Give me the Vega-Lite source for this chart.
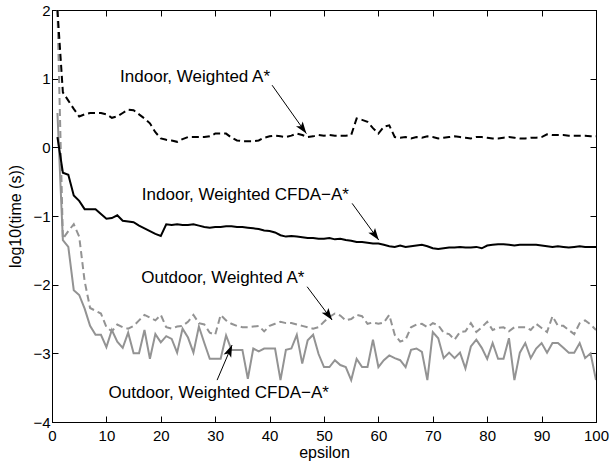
{
"$schema": "https://vega.github.io/schema/vega-lite/v6.json",
"width": 544, "height": 412,
"autosize": {"type": "none"},
"padding": {"left": 52, "top": 10, "right": 14, "bottom": 42},
"background": "white",
"config": {"view": {"stroke": "black", "strokeWidth": 1}, "font": "Liberation Sans"},
"datasets": {
"curves": [
{"eps":1,"ia":2.0,"ic":0.15,"oa":2.0,"oc":0.5},
{"eps":2,"ia":0.80,"ic":-0.37,"oa":-1.33,"oc":-1.35},
{"eps":3,"ia":0.68,"ic":-0.40,"oa":-1.22,"oc":-1.45},
{"eps":4,"ia":0.56,"ic":-0.70,"oa":-1.12,"oc":-2.08},
{"eps":5,"ia":0.45,"ic":-0.78,"oa":-1.30,"oc":-2.15},
{"eps":6,"ia":0.48,"ic":-0.90,"oa":-1.95,"oc":-2.35},
{"eps":7,"ia":0.50,"ic":-0.90,"oa":-2.34,"oc":-2.60},
{"eps":8,"ia":0.50,"ic":-0.90,"oa":-2.38,"oc":-2.73},
{"eps":9,"ia":0.50,"ic":-0.97,"oa":-2.42,"oc":-2.73},
{"eps":10,"ia":0.48,"ic":-1.04,"oa":-2.62,"oc":-2.91},
{"eps":11,"ia":0.43,"ic":-1.03,"oa":-2.68,"oc":-2.66},
{"eps":12,"ia":0.45,"ic":-0.99,"oa":-2.58,"oc":-2.83},
{"eps":13,"ia":0.50,"ic":-1.07,"oa":-2.62,"oc":-2.92},
{"eps":14,"ia":0.55,"ic":-1.08,"oa":-2.64,"oc":-2.70},
{"eps":15,"ia":0.54,"ic":-1.09,"oa":-2.60,"oc":-3.00},
{"eps":16,"ia":0.48,"ic":-1.14,"oa":-2.52,"oc":-3.00},
{"eps":17,"ia":0.42,"ic":-1.18,"oa":-2.44,"oc":-2.66},
{"eps":18,"ia":0.35,"ic":-1.22,"oa":-2.48,"oc":-3.08},
{"eps":19,"ia":0.22,"ic":-1.26,"oa":-2.52,"oc":-2.72},
{"eps":20,"ia":0.13,"ic":-1.29,"oa":-2.44,"oc":-2.84},
{"eps":21,"ia":0.11,"ic":-1.12,"oa":-2.62,"oc":-2.75},
{"eps":22,"ia":0.10,"ic":-1.13,"oa":-2.64,"oc":-2.79},
{"eps":23,"ia":0.08,"ic":-1.12,"oa":-2.61,"oc":-2.99},
{"eps":24,"ia":0.12,"ic":-1.13,"oa":-2.60,"oc":-2.64},
{"eps":25,"ia":0.15,"ic":-1.13,"oa":-2.54,"oc":-2.77},
{"eps":26,"ia":0.15,"ic":-1.12,"oa":-2.44,"oc":-2.99},
{"eps":27,"ia":0.15,"ic":-1.14,"oa":-2.56,"oc":-2.61},
{"eps":28,"ia":0.15,"ic":-1.16,"oa":-2.58,"oc":-2.85},
{"eps":29,"ia":0.16,"ic":-1.17,"oa":-2.70,"oc":-3.08},
{"eps":30,"ia":0.20,"ic":-1.16,"oa":-2.73,"oc":-3.08},
{"eps":31,"ia":0.20,"ic":-1.16,"oa":-2.44,"oc":-3.08},
{"eps":32,"ia":0.20,"ic":-1.15,"oa":-2.52,"oc":-2.74},
{"eps":33,"ia":0.14,"ic":-1.15,"oa":-2.57,"oc":-2.95},
{"eps":34,"ia":0.10,"ic":-1.16,"oa":-2.60,"oc":-2.95},
{"eps":35,"ia":0.09,"ic":-1.16,"oa":-2.62,"oc":-2.95},
{"eps":36,"ia":0.09,"ic":-1.17,"oa":-2.62,"oc":-3.37},
{"eps":37,"ia":0.09,"ic":-1.18,"oa":-2.61,"oc":-2.93},
{"eps":38,"ia":0.10,"ic":-1.19,"oa":-2.60,"oc":-2.97},
{"eps":39,"ia":0.14,"ic":-1.21,"oa":-2.68,"oc":-2.93},
{"eps":40,"ia":0.16,"ic":-1.22,"oa":-2.60,"oc":-2.93},
{"eps":41,"ia":0.17,"ic":-1.24,"oa":-2.57,"oc":-2.93},
{"eps":42,"ia":0.16,"ic":-1.28,"oa":-2.54,"oc":-3.39},
{"eps":43,"ia":0.15,"ic":-1.30,"oa":-2.56,"oc":-2.95},
{"eps":44,"ia":0.17,"ic":-1.29,"oa":-2.56,"oc":-2.93},
{"eps":45,"ia":0.20,"ic":-1.30,"oa":-2.58,"oc":-2.73},
{"eps":46,"ia":0.18,"ic":-1.31,"oa":-2.60,"oc":-3.15},
{"eps":47,"ia":0.15,"ic":-1.32,"oa":-2.62,"oc":-2.81},
{"eps":48,"ia":0.16,"ic":-1.32,"oa":-2.64,"oc":-2.73},
{"eps":49,"ia":0.18,"ic":-1.33,"oa":-2.62,"oc":-3.01},
{"eps":50,"ia":0.17,"ic":-1.33,"oa":-2.54,"oc":-3.20},
{"eps":51,"ia":0.18,"ic":-1.32,"oa":-2.47,"oc":-3.20},
{"eps":52,"ia":0.17,"ic":-1.34,"oa":-2.42,"oc":-3.10},
{"eps":53,"ia":0.17,"ic":-1.33,"oa":-2.45,"oc":-3.17},
{"eps":54,"ia":0.17,"ic":-1.35,"oa":-2.52,"oc":-3.20},
{"eps":55,"ia":0.18,"ic":-1.36,"oa":-2.50,"oc":-3.39},
{"eps":56,"ia":0.42,"ic":-1.38,"oa":-2.44,"oc":-3.08},
{"eps":57,"ia":0.40,"ic":-1.38,"oa":-2.46,"oc":-3.20},
{"eps":58,"ia":0.37,"ic":-1.39,"oa":-2.57,"oc":-3.20},
{"eps":59,"ia":0.28,"ic":-1.40,"oa":-2.55,"oc":-2.80},
{"eps":60,"ia":0.20,"ic":-1.40,"oa":-2.57,"oc":-3.20},
{"eps":61,"ia":0.30,"ic":-1.42,"oa":-2.55,"oc":-3.10},
{"eps":62,"ia":0.32,"ic":-1.44,"oa":-2.44,"oc":-3.03},
{"eps":63,"ia":0.15,"ic":-1.45,"oa":-2.73,"oc":-3.07},
{"eps":64,"ia":0.14,"ic":-1.43,"oa":-2.83,"oc":-3.10},
{"eps":65,"ia":0.15,"ic":-1.45,"oa":-2.80,"oc":-3.20},
{"eps":66,"ia":0.13,"ic":-1.44,"oa":-2.62,"oc":-2.95},
{"eps":67,"ia":0.15,"ic":-1.43,"oa":-2.58,"oc":-2.93},
{"eps":68,"ia":0.14,"ic":-1.42,"oa":-2.57,"oc":-2.98},
{"eps":69,"ia":0.16,"ic":-1.44,"oa":-2.62,"oc":-3.39},
{"eps":70,"ia":0.15,"ic":-1.47,"oa":-2.56,"oc":-2.69},
{"eps":71,"ia":0.13,"ic":-1.48,"oa":-2.59,"oc":-2.78},
{"eps":72,"ia":0.14,"ic":-1.47,"oa":-2.70,"oc":-3.07},
{"eps":73,"ia":0.15,"ic":-1.46,"oa":-2.72,"oc":-2.99},
{"eps":74,"ia":0.16,"ic":-1.46,"oa":-2.80,"oc":-3.07},
{"eps":75,"ia":0.15,"ic":-1.45,"oa":-2.69,"oc":-2.99},
{"eps":76,"ia":0.14,"ic":-1.46,"oa":-2.68,"oc":-3.22},
{"eps":77,"ia":0.13,"ic":-1.46,"oa":-2.56,"oc":-2.90},
{"eps":78,"ia":0.15,"ic":-1.45,"oa":-2.69,"oc":-2.80},
{"eps":79,"ia":0.15,"ic":-1.47,"oa":-2.62,"oc":-2.92},
{"eps":80,"ia":0.14,"ic":-1.43,"oa":-2.54,"oc":-3.08},
{"eps":81,"ia":0.13,"ic":-1.42,"oa":-2.66,"oc":-2.85},
{"eps":82,"ia":0.13,"ic":-1.41,"oa":-2.63,"oc":-3.08},
{"eps":83,"ia":0.14,"ic":-1.41,"oa":-2.62,"oc":-3.08},
{"eps":84,"ia":0.15,"ic":-1.42,"oa":-2.68,"oc":-2.78},
{"eps":85,"ia":0.14,"ic":-1.43,"oa":-2.62,"oc":-3.39},
{"eps":86,"ia":0.13,"ic":-1.42,"oa":-2.62,"oc":-2.99},
{"eps":87,"ia":0.13,"ic":-1.42,"oa":-2.62,"oc":-2.85},
{"eps":88,"ia":0.14,"ic":-1.42,"oa":-2.66,"oc":-3.07},
{"eps":89,"ia":0.14,"ic":-1.42,"oa":-2.57,"oc":-2.93},
{"eps":90,"ia":0.15,"ic":-1.43,"oa":-2.63,"oc":-2.85},
{"eps":91,"ia":0.19,"ic":-1.44,"oa":-2.69,"oc":-2.99},
{"eps":92,"ia":0.18,"ic":-1.45,"oa":-2.46,"oc":-2.85},
{"eps":93,"ia":0.18,"ic":-1.44,"oa":-2.60,"oc":-2.85},
{"eps":94,"ia":0.18,"ic":-1.45,"oa":-2.60,"oc":-2.92},
{"eps":95,"ia":0.17,"ic":-1.46,"oa":-2.66,"oc":-2.99},
{"eps":96,"ia":0.17,"ic":-1.45,"oa":-2.72,"oc":-2.99},
{"eps":97,"ia":0.17,"ic":-1.44,"oa":-2.56,"oc":-2.85},
{"eps":98,"ia":0.17,"ic":-1.45,"oa":-2.52,"oc":-3.07},
{"eps":99,"ia":0.16,"ic":-1.45,"oa":-2.58,"oc":-3.00},
{"eps":100,"ia":0.16,"ic":-1.45,"oa":-2.66,"oc":-3.39}
],
"labels": [
{"text":"Indoor, Weighted A*","x":26.3,"y":0.95},
{"text":"Indoor, Weighted CFDA−A*","x":35.55,"y":-0.77},
{"text":"Outdoor, Weighted A*","x":31.4,"y":-1.98},
{"text":"Outdoor, Weighted CFDA−A*","x":30.65,"y":-3.655}
],
"arrows": [
{"id":"a","x":40.46,"y":0.905,"x2":46.76,"y2":0.20},
{"id":"b","x":55.17,"y":-0.816,"x2":60.06,"y2":-1.35},
{"id":"c","x":46.9,"y":-2.03,"x2":51.49,"y2":-2.515},
{"id":"d","x":30.35,"y":-3.39,"x2":33.1,"y2":-2.88}
]
},
"layer": [
{
"data": {"name": "curves"},
"mark": {"type": "line", "color": "#939393", "strokeWidth": 2, "clip": true},
"encoding": {
"x": {"field": "eps", "type": "quantitative", "scale": {"domain": [0, 100], "nice": false},
"axis": {"orient": "bottom", "values": [0,10,20,30,40,50,60,70,80,90,100], "grid": false, "tickSize": -6, "tickColor": "black", "domainColor": "black", "labelColor": "black", "labelFont": "Liberation Sans", "labelFontSize": 15, "labelPadding": 12, "labelFlush": false, "labelOverlap": false, "title": "epsilon", "titleFont": "Liberation Sans", "titleFontSize": 16, "titleFontWeight": "normal", "titleColor": "black", "titlePadding": 1}},
"y": {"field": "oc", "type": "quantitative", "scale": {"domain": [-4, 2], "nice": false, "zero": false},
"axis": {"orient": "left", "values": [-4,-3,-2,-1,0,1,2], "grid": false, "tickSize": -6, "tickColor": "black", "domainColor": "black", "labelColor": "black", "labelFont": "Liberation Sans", "labelFontSize": 15, "labelPadding": 8, "labelFlush": false, "labelOverlap": false, "title": "log10(time (s))", "titleFont": "Liberation Sans", "titleFontSize": 16, "titleFontWeight": "normal", "titleColor": "black", "titlePadding": 9}}
}
},
{
"data": {"name": "curves"},
"mark": {"type": "line", "color": "#939393", "strokeWidth": 2, "strokeDash": [7, 4], "clip": true},
"encoding": {
"x": {"field": "eps", "type": "quantitative", "axis": {"orient": "top", "values": [0,10,20,30,40,50,60,70,80,90,100], "grid": false, "tickSize": -6, "tickColor": "black", "domainColor": "black", "labels": false, "title": null}},
"y": {"field": "oa", "type": "quantitative", "axis": {"orient": "right", "values": [-4,-3,-2,-1,0,1,2], "grid": false, "tickSize": -6, "tickColor": "black", "domainColor": "black", "labels": false, "title": null}}
}
},
{
"data": {"name": "curves"},
"mark": {"type": "line", "color": "black", "strokeWidth": 2, "clip": true},
"encoding": {
"x": {"field": "eps", "type": "quantitative", "axis": null},
"y": {"field": "ic", "type": "quantitative", "axis": null}
}
},
{
"data": {"name": "curves"},
"mark": {"type": "line", "color": "black", "strokeWidth": 2, "strokeDash": [7, 4], "clip": true},
"encoding": {
"x": {"field": "eps", "type": "quantitative", "axis": null},
"y": {"field": "ia", "type": "quantitative", "axis": null}
}
},
{
"data": {"name": "arrows"},
"mark": {"type": "rule", "color": "black", "strokeWidth": 1},
"encoding": {
"x": {"field": "x", "type": "quantitative", "axis": null},
"y": {"field": "y", "type": "quantitative", "axis": null},
"x2": {"field": "x2"},
"y2": {"field": "y2"}
}
},
{
"data": {"name": "arrows"},
"transform": [{"filter": "datum.id !== 'd'"}],
"mark": {"type": "point", "shape": "M0,0L-0.45,1.3L0,1.0L0.45,1.3Z", "size": 340, "filled": true, "color": "black", "opacity": 1, "strokeWidth": 0, "angle": 144},
"encoding": {
"x": {"field": "x2", "type": "quantitative", "axis": null},
"y": {"field": "y2", "type": "quantitative", "axis": null}
}
},
{
"data": {"name": "arrows"},
"transform": [{"filter": "datum.id === 'd'"}],
"mark": {"type": "point", "shape": "M0,0L-0.45,1.3L0,1.0L0.45,1.3Z", "size": 340, "filled": true, "color": "black", "opacity": 1, "strokeWidth": 0, "angle": 23},
"encoding": {
"x": {"field": "x2", "type": "quantitative", "axis": null},
"y": {"field": "y2", "type": "quantitative", "axis": null}
}
},
{
"data": {"name": "labels"},
"mark": {"type": "text", "font": "Liberation Sans", "fontSize": 17, "color": "black", "align": "center", "baseline": "alphabetic"},
"encoding": {
"x": {"field": "x", "type": "quantitative", "axis": null},
"y": {"field": "y", "type": "quantitative", "axis": null},
"text": {"field": "text"}
}
}
],
"resolve": {"axis": {"x": "independent", "y": "independent"}}
}
